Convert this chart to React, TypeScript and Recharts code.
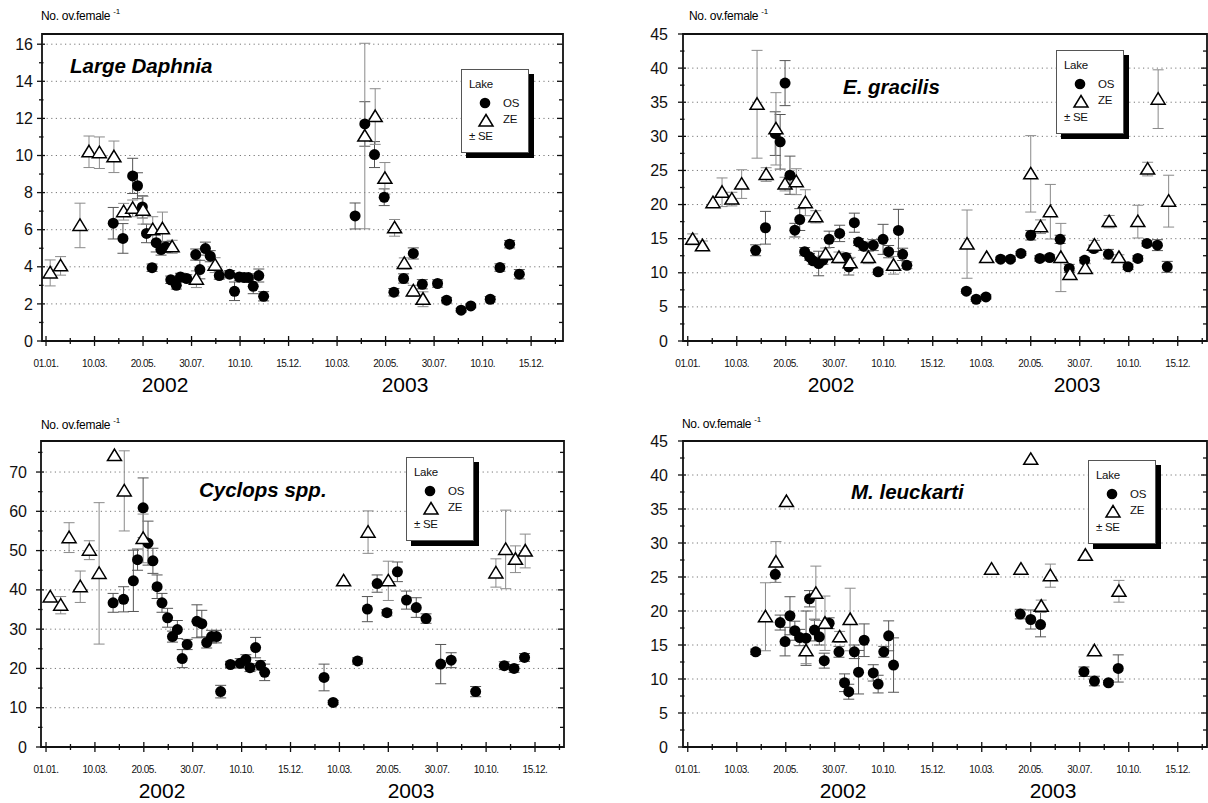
import React from 'react';
import { ScatterChart, Scatter, XAxis, YAxis, ErrorBar, ReferenceLine, ReferenceArea } from 'recharts';

const FONT = '"Liberation Sans", Arial, Helvetica, sans-serif';

// x = day counted from 01.01.2002 on the figure's evenly spaced scale (one labelled step = 70 days)
const xMajorTicks = [0, 70, 140, 210, 280, 350, 420, 490, 560, 630, 700];
const xMinorTicks = [35, 105, 175, 245, 315, 385, 455, 525, 595, 665, 735];
const xTickLabels = ['01.01.', '10.03.', '20.05.', '30.07.', '10.10.', '15.12.', '10.03.', '20.05.', '30.07.', '10.10.', '15.12.'];
const years = ['2002', '2003'];

const daphniaMajor = [0, 2, 4, 6, 8, 10, 12, 14, 16];
const daphniaMinor = [1, 3, 5, 7, 9, 11, 13, 15];
const gracilisMajor = [0, 5, 10, 15, 20, 25, 30, 35, 40, 45];
const gracilisMinor = [2.5, 7.5, 12.5, 17.5, 22.5, 27.5, 32.5, 37.5, 42.5];
const cyclopsMajor = [0, 10, 20, 30, 40, 50, 60, 70];
const cyclopsMinor = [5, 15, 25, 35, 45, 55, 65, 75];

// [day, eggs per ovigerous female, SE]
type Pt = [number, number, number];

const daphniaOS: Pt[] = [
  [97, 6.35, 0.85], [111, 5.53, 0.8], [125, 8.9, 0.95], [132, 8.37, 0.7], [139, 7.23, 0.6], [145, 5.8, 0.5],
  [153, 3.95, 0.2], [159, 5.3, 0.5], [166, 4.93, 0.3], [173, 5.07, 0.3], [180, 3.3, 0.2], [188, 3.0, 0.2],
  [194, 3.45, 0.2], [203, 3.37, 0.2], [216, 4.66, 0.3], [222, 3.85, 0.5], [230, 4.98, 0.35], [237, 4.57, 0.3],
  [250, 3.53, 0.2], [265, 3.6, 0.2], [272, 2.68, 0.5], [279, 3.45, 0.2], [286, 3.42, 0.2], [292, 3.42, 0.2],
  [299, 2.95, 0.4], [307, 3.53, 0.35], [314, 2.41, 0.25],
  [446, 6.74, 0.7], [460, 11.7, 1.2], [474, 10.05, 0.7], [488, 7.75, 0.45], [502, 2.63, 0.2], [516, 3.37, 0.25],
  [530, 4.72, 0.3], [543, 3.06, 0.25], [565, 3.1, 0.2], [578, 2.2, 0.15], [599, 1.66, 0.1], [613, 1.89, 0.1],
  [641, 2.25, 0.15], [655, 3.96, 0.2], [669, 5.22, 0.2], [683, 3.6, 0.25],
];
const daphniaZE: Pt[] = [
  [6, 3.67, 0.7], [21, 4.05, 0.5], [49, 6.23, 1.2], [62, 10.2, 0.85], [77, 10.15, 0.85], [98, 9.93, 0.85],
  [112, 6.97, 0.45], [125, 7.15, 0.45], [140, 7.05, 0.75], [154, 6.0, 0.7], [168, 6.05, 0.9], [182, 5.08, 0.35],
  [217, 3.33, 0.45], [244, 4.09, 0.4],
  [460, 11.05, 5], [475, 12.1, 1.5], [489, 8.77, 0.85], [503, 6.1, 0.45], [517, 4.18, 0.3], [530, 2.7, 0.3],
  [544, 2.25, 0.4],
];

const gracilisOS: Pt[] = [
  [97, 13.3, 0.8], [111, 16.6, 2.4], [125, 30.4, 3.2], [132, 29.2, 4], [139, 37.8, 3.3], [146, 24.3, 2.8],
  [153, 16.25, 1], [160, 17.8, 1.6], [167, 13.1, 0.6], [174, 12.34, 0.5], [179, 11.75, 0.5], [187, 11.36, 1.8],
  [193, 11.85, 0.6], [202, 14.9, 1.2], [217, 15.77, 1.2], [226, 12.24, 0.6], [230, 10.87, 1.2], [238, 17.34, 1.4],
  [244, 14.5, 0.5], [251, 13.9, 0.6], [265, 14.05, 0.8], [272, 10.14, 0.4], [279, 14.9, 2.2], [287, 13.1, 0.9],
  [301, 16.2, 3.1], [307, 12.7, 0.9], [313, 11.1, 0.5],
  [398, 7.3, 0.3], [412, 6.12, 0.3], [426, 6.46, 0.3], [447, 12.0, 0.3], [461, 12.0, 0.3], [476, 12.83, 0.3],
  [490, 15.5, 0.7], [503, 12.1, 0.4], [517, 12.24, 0.4], [532, 14.9, 0.6], [545, 10.63, 0.6], [567, 11.85, 0.4],
  [580, 13.56, 0.5], [601, 12.73, 0.7], [629, 10.87, 0.4], [643, 12.1, 0.4], [656, 14.3, 0.4], [671, 14.05, 0.8],
  [685, 10.87, 0.8],
];
const gracilisZE: Pt[] = [
  [7, 14.9, 0.8], [21, 13.96, 0.7], [36, 20.27, 0], [49, 21.8, 2.1], [63, 20.8, 1], [77, 23.0, 2.1],
  [99, 34.7, 7.9], [112, 24.4, 1], [126, 31.1, 5.3], [139, 23.0, 1], [155, 23.35, 1.9], [168, 20.27, 1.9],
  [183, 18.2, 0.9], [197, 12.73, 0.9], [216, 12.24, 0.8], [232, 11.46, 0.8], [258, 12.24, 0.9], [294, 11.1, 1.3],
  [399, 14.2, 5], [427, 12.24, 0], [490, 24.5, 5.6], [504, 16.75, 1], [518, 18.95, 4], [533, 12.24, 5],
  [546, 9.75, 0.5], [568, 10.63, 0.7], [581, 14.05, 0.7], [602, 17.5, 0.9], [616, 12.24, 0.4], [643, 17.5, 2.4],
  [657, 25.2, 1], [672, 35.45, 4.3], [687, 20.5, 3.8],
];

const cyclopsOS: Pt[] = [
  [96, 36.7, 2.4], [111, 37.6, 3.2], [125, 42.3, 7.8], [131, 47.7, 2.7], [139, 60.9, 7.6], [146, 51.9, 5.6],
  [153, 47.4, 3.2], [159, 40.8, 3], [166, 36.7, 2.4], [174, 32.9, 2.4], [181, 28.1, 1.4], [188, 29.9, 2.3],
  [195, 22.5, 2.3], [202, 26.1, 1.3], [216, 32.0, 4.2], [223, 31.4, 3.4], [230, 26.6, 1.4], [237, 28.1, 1.6],
  [244, 28.1, 1.6], [250, 14.1, 1.6], [264, 21.0, 0.8], [278, 21.3, 1.2], [286, 22.3, 1.2], [292, 20.2, 1],
  [300, 25.3, 2.6], [307, 20.8, 1.2], [313, 19.0, 2.1],
  [398, 17.7, 3.4], [411, 11.36, 0.5], [446, 21.9, 0.8], [460, 35.1, 3.2], [474, 41.6, 2.2], [488, 34.2, 0.8],
  [503, 44.6, 2.5], [516, 37.4, 2.3], [530, 35.5, 2.5], [544, 32.7, 1.2], [565, 21.1, 5], [580, 22.1, 1.9],
  [615, 14.1, 1.3], [656, 20.7, 1], [670, 20.0, 1], [685, 22.8, 1],
];
const cyclopsZE: Pt[] = [
  [6, 38.2, 0], [21, 36.1, 2.2], [33, 53.3, 3.8], [49, 40.8, 4], [62, 50.1, 2.4], [76, 44.2, 18],
  [98, 74.2, 0], [112, 65.2, 10.2], [139, 53.1, 6.2],
  [426, 42.3, 0], [461, 54.7, 5.4], [490, 42.3, 5], [644, 44.3, 3.6], [658, 50.3, 10], [672, 47.8, 3.4],
  [686, 49.9, 4.3],
];

const leuckartiOS: Pt[] = [
  [97, 14.0, 0.4], [125, 25.4, 1.2], [132, 18.3, 1.1], [139, 15.5, 2.1], [146, 19.3, 2.8], [153, 17.1, 1.4],
  [160, 16.1, 1.2], [169, 16.0, 4], [174, 21.8, 1.2], [181, 17.2, 1.6], [188, 16.2, 1.2], [195, 12.7, 1.1],
  [202, 18.2, 0.8], [216, 14.0, 0.8], [224, 9.45, 1.3], [230, 8.13, 1.1], [238, 14.0, 1], [244, 11.0, 3.2],
  [252, 15.7, 2.4], [265, 10.9, 1.2], [272, 9.25, 1.3], [280, 14.0, 0.8], [287, 16.35, 2.2], [294, 12.05, 4],
  [475, 19.55, 0.7], [490, 18.75, 1.4], [504, 18.0, 1.8], [566, 11.07, 0.7], [581, 9.7, 0.7], [601, 9.45, 0.3],
  [615, 11.55, 2],
];
const leuckartiZE: Pt[] = [
  [111, 19.15, 5], [126, 27.2, 3], [141, 36.1, 0], [169, 14.15, 1.9], [183, 22.6, 4], [196, 18.2, 4],
  [217, 16.2, 0.8], [232, 18.75, 4.6],
  [434, 26.15, 0], [476, 26.15, 0], [490, 42.3, 0], [505, 20.7, 0.9], [518, 25.2, 1.7], [568, 28.2, 0],
  [581, 14.15, 0], [616, 22.9, 1.6],
];

const toRows = (pts: Pt[]) => pts.map(([x, y, e]) => ({ x, y, e }));

const Dot = (p: any) => <circle cx={p.cx} cy={p.cy} r={5.5} fill="#000" />;
const Tri = (p: any) => (
  <path
    d={`M${p.cx},${p.cy - 6.5}L${p.cx + 7},${p.cy + 5}L${p.cx - 7},${p.cy + 5}Z`}
    fill="#fff"
    stroke="#000"
    strokeWidth={1.5}
  />
);

interface PanelSpec {
  x0: number;
  y0: number;
  x1: number;
  y1: number;
  xDomain: [number, number];
  yMax: number;
  yMajor: number[];
  yMinor: number[];
  labelGap: number;
  os: Pt[];
  ze: Pt[];
}

function Panel({ spec }: { spec: PanelSpec }) {
  const { x0, y0, x1, y1, xDomain, yMax, yMajor, yMinor, labelGap, os, ze } = spec;
  const AXIS_W = 50;
  const AXIS_H = 34;
  const PAD = 4;
  const PAD_TOP = 14;
  const plotW = x1 - x0;
  const plotH = y1 - y0;
  const xTicks = [...xMajorTicks, ...xMinorTicks].sort((a, b) => a - b);
  const yTicks = [...yMajor, ...yMinor].sort((a, b) => a - b);

  const xTick = (p: any) => {
    const { x, y, payload } = p;
    const i = xMajorTicks.indexOf(payload.value);
    if (i < 0) {
      return <line x1={x} x2={x} y1={y - 3} y2={y + 3} stroke="#111" strokeWidth={1.3} />;
    }
    return (
      <g>
        <line x1={x} x2={x} y1={y - 5} y2={y + 5} stroke="#111" strokeWidth={1.3} />
        <text x={x} y={y + 26} textAnchor="middle" fontSize={10} fontFamily={FONT} fill="#111" letterSpacing={-0.5}>
          {xTickLabels[i]}
        </text>
      </g>
    );
  };

  const yTick = (p: any) => {
    const { x, y, payload } = p;
    const major = yMajor.includes(payload.value);
    return (
      <g>
        <line x1={x - (major ? 5 : 3)} x2={x + (major ? 3 : 1.5)} y1={y} y2={y} stroke="#111" strokeWidth={1.3} />
        <line x1={x + plotW - (major ? 6 : 4)} x2={x + plotW} y1={y} y2={y} stroke="#111" strokeWidth={1.3} />
        {major && (
          <text x={x - labelGap} y={y + 5.6} textAnchor="end" fontSize={16} fontFamily={FONT} fill="#111">
            {payload.value}
          </text>
        )}
      </g>
    );
  };

  return (
    <div style={{ position: 'absolute', left: x0 - AXIS_W, top: y0 - PAD_TOP }}>
      <ScatterChart
        width={AXIS_W + plotW + PAD}
        height={PAD_TOP + plotH + AXIS_H}
        margin={{ top: PAD_TOP, right: PAD, bottom: 0, left: 0 }}
      >
        <XAxis
          type="number"
          dataKey="x"
          domain={xDomain}
          ticks={xTicks}
          interval={0}
          tick={xTick}
          tickLine={false}
          axisLine={false}
          tickSize={0}
          tickMargin={0}
          height={AXIS_H}
          allowDataOverflow
        />
        <YAxis
          type="number"
          dataKey="y"
          domain={[0, yMax]}
          ticks={yTicks}
          interval={0}
          tick={yTick}
          tickLine={false}
          axisLine={false}
          tickSize={0}
          tickMargin={0}
          width={AXIS_W}
          allowDataOverflow
        />
        {yMajor
          .filter((v) => v > 0 && v < yMax)
          .map((v) => (
            <ReferenceLine key={v} y={v} stroke="#777" strokeDasharray="1.2 3.4" strokeWidth={1} />
          ))}
        <ReferenceArea x1={xDomain[0]} x2={xDomain[1]} y1={0} y2={yMax} fill="none" stroke="#111" strokeWidth={1.8} />
        <Scatter name="OS" data={toRows(os)} shape={Dot} isAnimationActive={false}>
          <ErrorBar dataKey="e" direction="y" width={5.5} stroke="#555" strokeWidth={1} />
        </Scatter>
        <Scatter name="ZE" data={toRows(ze)} shape={Tri} isAnimationActive={false}>
          <ErrorBar dataKey="e" direction="y" width={5.5} stroke="#8a8a8a" strokeWidth={1} />
        </Scatter>
      </ScatterChart>
    </div>
  );
}

function Txt({ x, y, size, children, bold, italic, anchor }: any) {
  return (
    <div
      style={{
        position: 'absolute',
        left: x,
        top: y - size * 0.49,
        fontSize: size,
        lineHeight: 1,
        fontFamily: FONT,
        fontWeight: bold ? 700 : 400,
        fontStyle: italic ? 'italic' : 'normal',
        whiteSpace: 'nowrap',
        color: '#000',
        transform: anchor === 'middle' ? 'translateX(-50%)' : undefined,
      }}
    >
      {children}
    </div>
  );
}

function LakeLegend({ left, top }: { left: number; top: number }) {
  const item: React.CSSProperties = { position: 'absolute', fontSize: 11.5, lineHeight: 1, letterSpacing: -0.3 };
  return (
    <div
      style={{
        position: 'absolute',
        left,
        top,
        width: 68,
        height: 84,
        boxSizing: 'border-box',
        background: '#fff',
        border: '1px solid #555',
        boxShadow: '5px 5px 0 #000',
        fontFamily: FONT,
        color: '#111',
      }}
    >
      <div style={{ ...item, left: 7, top: 9 }}>Lake</div>
      <svg style={{ position: 'absolute', left: 15, top: 25 }} width={18} height={34}>
        <circle cx={8} cy={8} r={5.3} fill="#000" />
        <path d="M9,19.5L16,31L2,31Z" fill="#fff" stroke="#000" strokeWidth={1.5} />
      </svg>
      <div style={{ ...item, left: 41, top: 28 }}>OS</div>
      <div style={{ ...item, left: 41, top: 44 }}>ZE</div>
      <div style={{ ...item, left: 7, top: 61 }}>± SE</div>
    </div>
  );
}

const YLabel = ({ x, y }: { x: number; y: number }) => (
  <div style={{ position: 'absolute', left: x, top: y, fontFamily: FONT, fontSize: 12, lineHeight: 1, letterSpacing: -0.3, whiteSpace: 'nowrap' }}>
    No. ov.female <sup style={{ fontSize: 8, verticalAlign: 'top', position: 'relative', top: -2 }}>-1</sup>
  </div>
);

export default function App() {
  const panels: { spec: PanelSpec; title: string; titleX: number; titleY: number; legend: [number, number]; ylab: [number, number]; yearY: number; yearX: [number, number] }[] = [
    {
      spec: { x0: 42, y0: 34, x1: 563, y1: 341, xDomain: [-5.8, 746], yMax: 16.55, yMajor: daphniaMajor, yMinor: daphniaMinor, labelGap: 9, os: daphniaOS, ze: daphniaZE },
      title: 'Large Daphnia', titleX: 70, titleY: 66.5, legend: [461, 69], ylab: [41, 10], yearY: 384, yearX: [165, 405],
    },
    {
      spec: { x0: 683, y0: 34, x1: 1207, y1: 341, xDomain: [-6.8, 741.8], yMax: 45, yMajor: gracilisMajor, yMinor: gracilisMinor, labelGap: 15, os: gracilisOS, ze: gracilisZE },
      title: 'E. gracilis', titleX: 843, titleY: 87, legend: [1056, 50], ylab: [689, 10], yearY: 384, yearX: [831, 1077],
    },
    {
      spec: { x0: 41, y0: 441, x1: 564, y1: 747, xDomain: [-7.2, 741.5], yMax: 77.9, yMajor: cyclopsMajor, yMinor: cyclopsMinor, labelGap: 14, os: cyclopsOS, ze: cyclopsZE },
      title: 'Cyclops spp.', titleX: 199, titleY: 490, legend: [406, 457], ylab: [41, 419], yearY: 790.5, yearX: [162, 411],
    },
    {
      spec: { x0: 683, y0: 441, x1: 1207, y1: 747, xDomain: [-6.8, 741.8], yMax: 45, yMajor: gracilisMajor, yMinor: gracilisMinor, labelGap: 15, os: leuckartiOS, ze: leuckartiZE },
      title: 'M. leuckarti', titleX: 851, titleY: 492, legend: [1088, 460], ylab: [682, 418], yearY: 790.5, yearX: [843, 1053],
    },
  ];

  return (
    <div style={{ position: 'absolute', left: 0, top: 0, width: 1208, height: 803, background: '#fff', overflow: 'hidden' }}>
      {panels.map((p, i) => (
        <React.Fragment key={i}>
          <Panel spec={p.spec} />
          <YLabel x={p.ylab[0]} y={p.ylab[1]} />
          <Txt x={p.titleX} y={p.titleY} size={20.5} bold italic>
            {p.title}
          </Txt>
          <LakeLegend left={p.legend[0]} top={p.legend[1]} />
          <Txt x={p.yearX[0]} y={p.yearY} size={21} anchor="middle">
            {years[0]}
          </Txt>
          <Txt x={p.yearX[1]} y={p.yearY} size={21} anchor="middle">
            {years[1]}
          </Txt>
        </React.Fragment>
      ))}
    </div>
  );
}
